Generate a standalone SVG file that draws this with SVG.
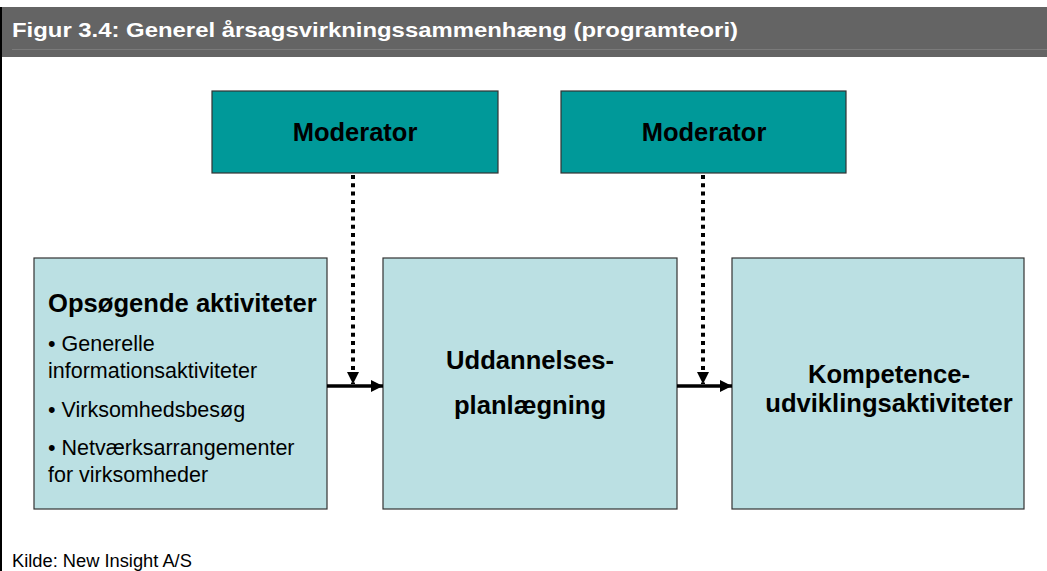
<svg xmlns="http://www.w3.org/2000/svg" width="1047" height="571" viewBox="0 0 1047 571">
<defs>
<style>
.bold{font-family:"Liberation Sans",Arial,sans-serif;font-weight:bold;fill:#000;}
.reg{font-family:"Liberation Sans",Arial,sans-serif;fill:#000;}
.mod{fill:#009999;stroke:#333;stroke-width:1.2;}
.box{fill:#BBE0E3;stroke:#333;stroke-width:1.2;}
.dot{stroke:#000;stroke-width:4;stroke-dasharray:4 4.3;fill:none;}
.solid{stroke:#000;stroke-width:3.5;fill:none;}
</style>
<marker id="ah" viewBox="0 0 10 10" refX="10" refY="5" markerWidth="12" markerHeight="12" markerUnits="userSpaceOnUse" orient="auto">
<path d="M0,0 L10,5 L0,10 z" fill="#000"/>
</marker>
</defs>
<rect x="0" y="0" width="1047" height="571" fill="#fff"/>
<g id="frame">
<rect x="0" y="7" width="2" height="564" fill="#000"/>
<rect x="2" y="7" width="1045" height="50" fill="#646464"/>
<line x1="12" y1="49.5" x2="1047" y2="49.5" stroke="#7a7a7a" stroke-width="1"/>
<text x="12" y="37" class="bold" style="fill:#fff" font-size="21" textLength="726" lengthAdjust="spacingAndGlyphs">Figur 3.4: Generel årsagsvirkningssammenhæng (programteori)</text>
</g>
<g id="moderator1">
<rect class="mod" x="212" y="91" width="286" height="82"/>
<text class="bold" x="355" y="141" font-size="25.5" text-anchor="middle">Moderator</text>
</g>
<g id="moderator2">
<rect class="mod" x="561" y="91" width="285" height="82"/>
<text class="bold" x="704" y="141" font-size="25.5" text-anchor="middle">Moderator</text>
</g>
<g id="opsoegende">
<rect class="box" x="34" y="258" width="293" height="251"/>
<text class="bold" x="48" y="312" font-size="25.6">Opsøgende aktiviteter</text>
<text class="reg" x="48" y="351" font-size="21.5">• Generelle</text>
<text class="reg" x="48" y="378" font-size="21.5">informationsaktiviteter</text>
<text class="reg" x="48" y="417" font-size="21.5">• Virksomhedsbesøg</text>
<text class="reg" x="48" y="455" font-size="21.5">• Netværksarrangementer</text>
<text class="reg" x="48" y="482" font-size="21.5">for virksomheder</text>
</g>
<g id="uddannelse">
<rect class="box" x="383" y="258" width="294" height="251"/>
<text class="bold" x="530" y="369" font-size="25.6" text-anchor="middle">Uddannelses-</text>
<text class="bold" x="530" y="414" font-size="25.6" text-anchor="middle">planlægning</text>
</g>
<g id="kompetence">
<rect class="box" x="732" y="258" width="292" height="251"/>
<text class="bold" x="889" y="383" font-size="25.6" text-anchor="middle">Kompetence-</text>
<text class="bold" x="889" y="412" font-size="25.6" text-anchor="middle">udviklingsaktiviteter</text>
</g>
<g id="connectors">
<line class="dot" x1="353" y1="175" x2="353" y2="384" marker-end="url(#ah)"/>
<line class="solid" x1="327" y1="386" x2="383" y2="386" marker-end="url(#ah)"/>
<line class="dot" x1="703" y1="175" x2="703" y2="384" marker-end="url(#ah)"/>
<line class="solid" x1="677" y1="386" x2="732" y2="386" marker-end="url(#ah)"/>
</g>
<text class="reg" x="12" y="567" font-size="18.3">Kilde: New Insight A/S</text>
</svg>
